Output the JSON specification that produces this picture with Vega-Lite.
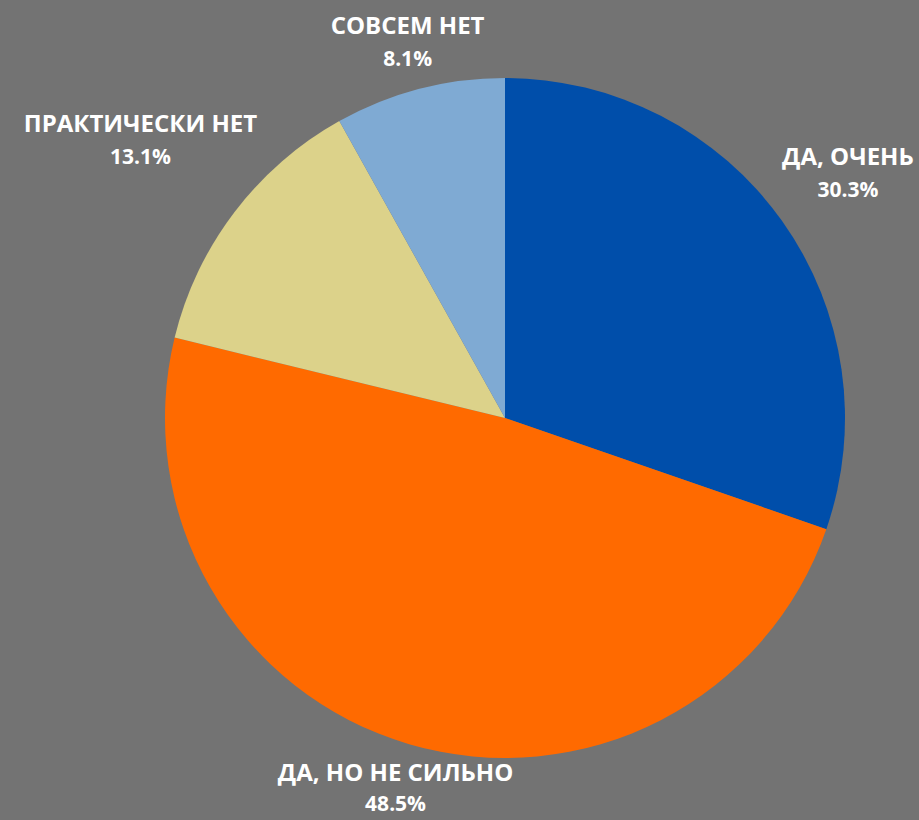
{
  "$schema": "https://vega.github.io/schema/vega-lite/v6.json",
  "width": 828,
  "height": 804,
  "autosize": "none",
  "padding": {"left": 91, "top": 16, "right": 0, "bottom": 0},
  "background": "#737373",
  "config": {"view": {"stroke": null}, "text": {"font": "Open Sans", "fontWeight": "bold", "fill": "white", "align": "center", "baseline": "middle"}},
  "data": {
    "values": [
      {"cat": "Да, очень", "pct": 30.3, "name": "ДА, ОЧЕНЬ", "pctLabel": "30.3%", "ord": 1},
      {"cat": "Да, но не сильно", "pct": 48.5, "name": "ДА, НО НЕ СИЛЬНО", "pctLabel": "48.5%", "ord": 2},
      {"cat": "Практически нет", "pct": 13.1, "name": "ПРАКТИЧЕСКИ НЕТ", "pctLabel": "13.1%", "ord": 3},
      {"cat": "Совсем нет", "pct": 8.1, "name": "СОВСЕМ НЕТ", "pctLabel": "8.1%", "ord": 4}
    ]
  },
  "encoding": {
    "theta": {"field": "pct", "type": "quantitative", "stack": true},
    "order": {"field": "ord", "type": "ordinal"}
  },
  "layer": [
    {
      "mark": {"type": "arc", "outerRadius": 340},
      "encoding": {
        "color": {
          "field": "cat", "type": "nominal", "legend": null,
          "scale": {
            "domain": ["Да, очень", "Да, но не сильно", "Практически нет", "Совсем нет"],
            "range": ["#004EAA", "#FF6A00", "#DCD28A", "#7FAAD3"]
          }
        }
      }
    },
    {"mark": {"type": "text", "radius": 421, "dy": -16, "fontSize": 24, "letterSpacing": 0.5},
     "encoding": {"text": {"condition": {"test": "datum.ord == 1", "field": "name"}, "value": ""}}},
    {"mark": {"type": "text", "radius": 421, "dy": 17, "fontSize": 21},
     "encoding": {"text": {"condition": {"test": "datum.ord == 1", "field": "pctLabel"}, "value": ""}}},
    {"mark": {"type": "text", "radius": 388, "dy": -16, "fontSize": 24, "letterSpacing": 0.5},
     "encoding": {"text": {"condition": {"test": "datum.ord == 2", "field": "name"}, "value": ""}}},
    {"mark": {"type": "text", "radius": 388, "dy": 15, "fontSize": 21},
     "encoding": {"text": {"condition": {"test": "datum.ord == 2", "field": "pctLabel"}, "value": ""}}},
    {"mark": {"type": "text", "radius": 458, "dy": -16, "fontSize": 24, "letterSpacing": 0.5},
     "encoding": {"text": {"condition": {"test": "datum.ord == 3", "field": "name"}, "value": ""}}},
    {"mark": {"type": "text", "radius": 458, "dy": 17, "fontSize": 21},
     "encoding": {"text": {"condition": {"test": "datum.ord == 3", "field": "pctLabel"}, "value": ""}}},
    {"mark": {"type": "text", "radius": 387, "dy": -16, "fontSize": 24, "letterSpacing": 0.5},
     "encoding": {"text": {"condition": {"test": "datum.ord == 4", "field": "name"}, "value": ""}}},
    {"mark": {"type": "text", "radius": 387, "dy": 17, "fontSize": 21},
     "encoding": {"text": {"condition": {"test": "datum.ord == 4", "field": "pctLabel"}, "value": ""}}}
  ]
}
